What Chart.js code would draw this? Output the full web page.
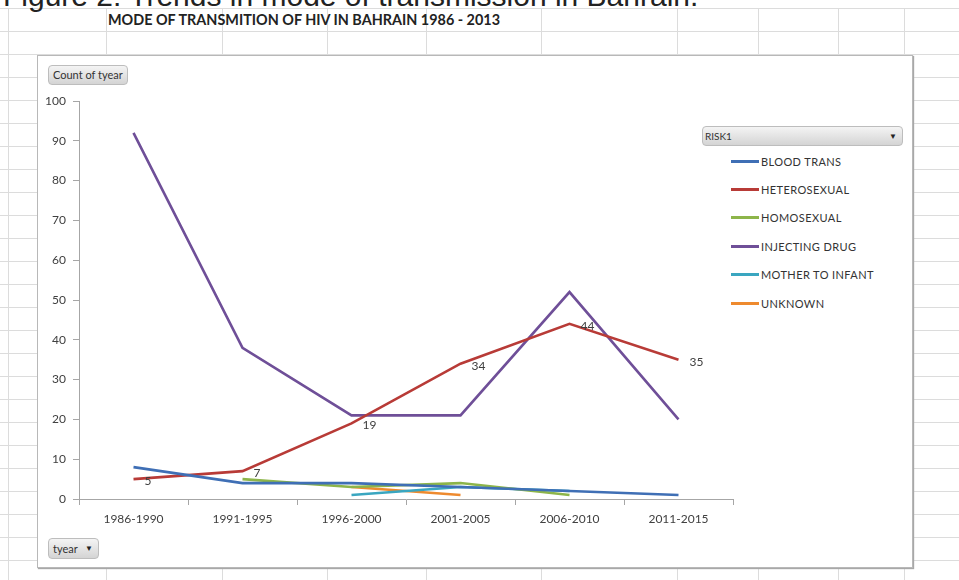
<html>
  <head>
    <style>
body {
  margin: 0;
  width: 959px;
  height: 580px;
  overflow: hidden;
  position: relative;
  background-color: #fff;
  background-image: linear-gradient(#dcdcdc 1px, transparent 1px);
  background-size: 100% 23px;
  background-position: 0 8px;
  font-family: Lato, "Open Sans", sans-serif;
}

.col {
  position: absolute;
  top: 8px;
  width: 1px;
  height: 580px;
  background: #dcdcdc;
}

#caption {
  position: absolute;
  left: 3px;
  top: -20px;
  font-family: "Liberation Sans", Arial, sans-serif;
  font-size: 30px;
  line-height: 32px;
  color: #222;
  white-space: nowrap;
}

#title {
  position: absolute;
  left: 108px;
  top: 11px;
  font-size: 14.4px;
  font-weight: bold;
  color: #222;
  white-space: nowrap;
}

#frame {
  position: absolute;
  left: 37px;
  top: 55px;
  width: 874px;
  height: 511px;
  background: #fff;
  border: 1px solid #b8b8b8;
  box-shadow: 1px 1px 1px #a8a8a8;
}

.btn {
  position: absolute;
  box-sizing: border-box;
  border: 1px solid #bdbdbd;
  border-radius: 4px;
  background: linear-gradient(#f4f4f4, #d4d4d4);
  font-size: 11px;
  color: #333;
  padding-left: 4px;
  white-space: nowrap;
}

.arrow {
  position: absolute;
  right: 5px;
  top: 0;
  font-size: 8px;
  color: #222;
}

#legend {
  position: absolute;
  left: 731px;
  top: 147px;
}

.item {
  height: 28.4px;
  display: flex;
  align-items: center;
  font-size: 11px;
  letter-spacing: 0.4px;
  color: #333;
}

.swatch {
  width: 28px;
  height: 3px;
  margin-right: 2px;
}

canvas {
  position: absolute;
  left: 0;
  top: 0;
}
    </style>
  </head>
  <body>
    <div class="col" style="left:8px"></div>
    <div class="col" style="left:106px"></div>
    <div class="col" style="left:222px"></div>
    <div class="col" style="left:327px"></div>
    <div class="col" style="left:426px"></div>
    <div class="col" style="left:541px"></div>
    <div class="col" style="left:677px"></div>
    <div class="col" style="left:758px"></div>
    <div class="col" style="left:838px"></div>
    <div class="col" style="left:904px"></div>
    <div id="caption">Figure 2: Trends in mode of transmission in Bahrain.</div>
    <div id="title">MODE OF TRANSMITION OF HIV IN BAHRAIN 1986 - 2013</div>
    <div id="frame"></div>
    <div class="btn" style="left:48px;top:65px;width:80px;height:20px;line-height:18px">Count of tyear</div>
    <div class="btn" style="left:48px;top:538px;width:51px;height:21px;line-height:19px">tyear<span class="arrow" style="line-height:19px">&#9660;</span></div>
    <div class="btn" style="left:702px;top:126px;width:201px;height:20px;line-height:18px;font-size:10px;padding-left:2px">RISK1<span class="arrow" style="line-height:18px">&#9660;</span></div>
    <div id="legend"></div>
    <canvas id="chart" width="959" height="580"></canvas>
    <script src="https://cdn.jsdelivr.net/npm/chart.js"></script>
    <script>

const periods = ['1986-1990', '1991-1995', '1996-2000', '2001-2005', '2006-2010', '2011-2015']
const seriesNames = ['BLOOD TRANS', 'HETEROSEXUAL', 'HOMOSEXUAL', 'INJECTING DRUG', 'MOTHER TO INFANT', 'UNKNOWN']
const seriesColors = ['#3f6fb5', '#b83b37', '#8db54a', '#6f4f98', '#3aa6c0', '#ee8a2e']

const bloodTrans = [8, 4, 4, 3, 2, 1]
const heterosexual = [5, 7, 19, 34, 44, 35]
const homosexual = [null, 5, 3, 4, 1, null]
const injectingDrug = [92, 38, 21, 21, 52, 20]
const motherToInfant = [null, null, 1, 3, 2, null]
const unknown = [null, null, 3, 1, null, null]

const yTicks = [0, 10, 20, 30, 40, 50, 60, 70, 80, 90, 100]

const allSeries = [bloodTrans, heterosexual, homosexual, injectingDrug, motherToInfant, unknown]
const labelledSeries = 1

// html legend, same order as the datasets
const legend = document.getElementById('legend')
seriesNames.forEach((name, i) => {
  legend.innerHTML += '<div class="item"><span class="swatch" style="background:' + seriesColors[i] + '"></span>' + name + '</div>'
})

const labelFont = '12px Lato'
const axisColor = '#a6a6a6'
const textColor = '#404040'

const pointLabels = {
  id: 'pointLabels',
  afterDatasetsDraw(chart) {
    const ctx = chart.ctx
    const meta = chart.getDatasetMeta(labelledSeries)
    const values = chart.data.datasets[labelledSeries].data
    ctx.save()
    ctx.font = labelFont
    ctx.fillStyle = textColor
    ctx.textAlign = 'left'
    ctx.textBaseline = 'middle'
    meta.data.forEach((pt, i) => {
      if (values[i] == null) return
      ctx.fillText(String(values[i]), pt.x + 11, pt.y + 2)
    })
    ctx.restore()
  }
}

const chart = new Chart(document.getElementById('chart'), {
  type: 'line',
  data: {
    labels: periods,
    datasets: allSeries.map((data, i) => ({
      label: seriesNames[i],
      data,
      borderColor: seriesColors[i],
      backgroundColor: seriesColors[i],
      borderWidth: 2.6,
      pointRadius: 0,
      tension: 0,
      spanGaps: false
    }))
  },
  options: {
    responsive: false,
    animation: false,
    layout: {
      padding: { left: 40, right: 226, top: 101, bottom: 51 }
    },
    plugins: {
      legend: { display: false },
      tooltip: { enabled: false }
    },
    scales: {
      x: {
        offset: true,
        afterFit: s => { s.height = 30 },
        grid: { drawOnChartArea: false, drawTicks: true, tickLength: 6, color: axisColor, offset: true },
        border: { color: axisColor, width: 1 },
        ticks: { font: { family: 'Lato', size: 12 }, color: textColor, padding: 7, maxRotation: 0 }
      },
      y: {
        min: yTicks[0],
        max: yTicks[yTicks.length - 1],
        afterFit: s => { s.width = 39 },
        afterBuildTicks: s => { s.ticks = yTicks.map(v => ({ value: v })) },
        grid: { drawOnChartArea: false, drawTicks: true, tickLength: 6, color: axisColor },
        border: { color: axisColor, width: 1 },
        ticks: { font: { family: 'Lato', size: 12 }, color: textColor, padding: 7 }
      }
    }
  },
  plugins: [pointLabels]
})
    </script>
  </body>
</html>
